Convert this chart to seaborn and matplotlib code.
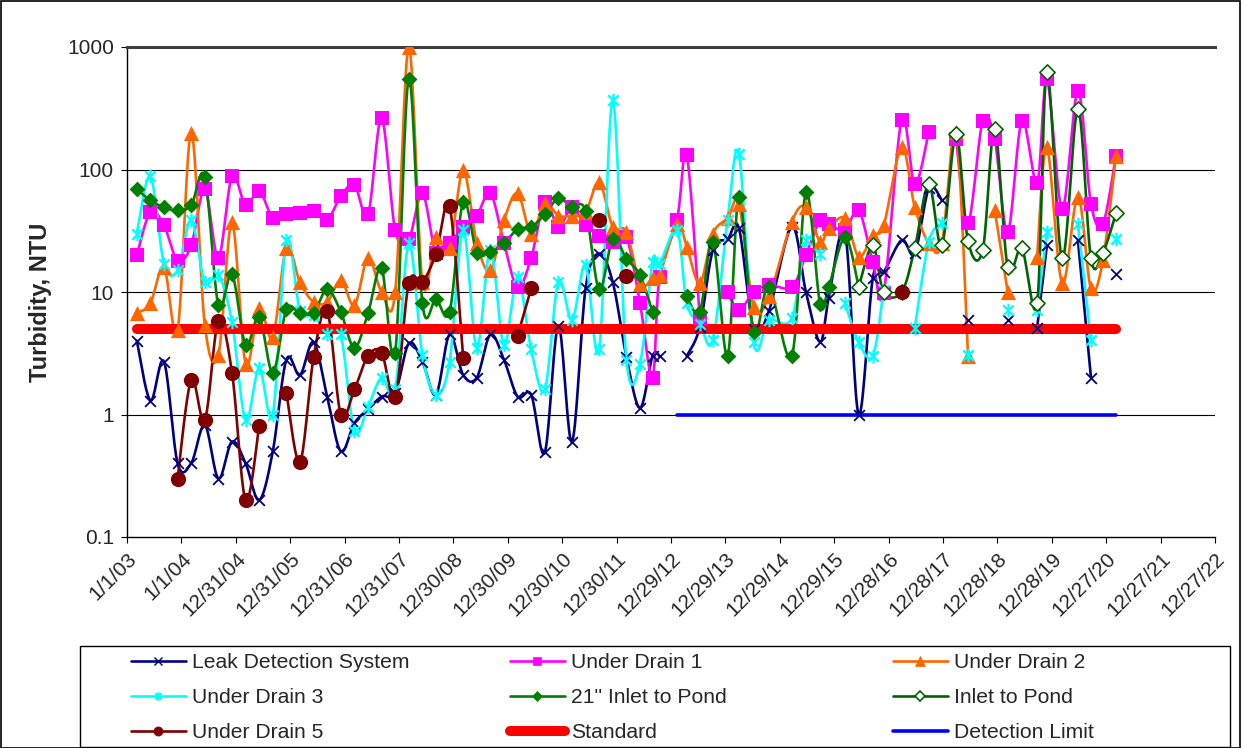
import numpy as np
import pandas as pd
import matplotlib
matplotlib.use("Agg")
import matplotlib.pyplot as plt
from matplotlib.lines import Line2D
from matplotlib.patches import Rectangle
from matplotlib.path import Path
import seaborn as sns

# ---------------------------------------------------------------- data
tick_labels = ["1/1/03", "1/1/04", "12/31/04", "12/31/05", "12/31/06", "12/31/07",
               "12/30/08", "12/30/09", "12/30/10", "12/30/11", "12/29/12", "12/29/13",
               "12/29/14", "12/29/15", "12/28/16", "12/28/17", "12/28/18", "12/28/19",
               "12/27/20", "12/27/21", "12/27/22"]

# sampling dates (decimal years)
sample_years = [
    2003.18, 2003.43, 2003.68, 2003.93, 2004.18, 2004.43, 2004.68, 2004.93,
    2005.18, 2005.43, 2005.68, 2005.93, 2006.18, 2006.43, 2006.68, 2006.93,
    2007.18, 2007.43, 2007.68, 2007.93, 2008.18, 2008.43, 2008.68, 2008.93,
    2009.18, 2009.43, 2009.68, 2009.93, 2010.18, 2010.43, 2010.68, 2010.93,
    2011.18, 2011.43, 2011.68, 2011.93, 2012.18, 2012.43,
    2012.66, 2012.79, 2013.11, 2013.29, 2013.53, 2013.77, 2014.04, 2014.25,
    2014.52, 2014.80, 2015.22, 2015.48, 2015.74, 2015.90, 2016.20, 2016.45,
    2016.71, 2016.91, 2017.24, 2017.48, 2017.74, 2017.98, 2018.24, 2018.46,
    2018.73, 2018.95, 2019.19, 2019.45, 2019.73, 2019.91, 2020.19, 2020.48,
    2020.72, 2020.94, 2021.18,
]

N = None
leak_detection = [
    4, 1.3, 2.7, 0.4, 0.4, 0.82, 0.3, 0.6, 0.4, 0.2, 0.5, 2.8, 2.1, 3.9, 1.4, 0.5,
    0.85, 1.1, 1.4, 1.5, 3.8, 2.7, 1.45, 4.5, 2.1, 2.0, 4.5, 2.8, 1.4, 1.45, 0.49, 5.3,
    0.6, 10.7, 20.6, 12, 2.97, 1.13,
    3, 3, N, 3, 5.2, 22, 27, 33, 5, 7, 34, 10, 3.9, 9, 30, 1.0,
    13, 14.6, 26.5, 20.7, 70, 56, N, 5.9, N, N, 5.9, N, 5.1, 24, N, 26.5,
    2.0, N, 14,
]
under_drain_1 = [
    20, 45, 35, 18, 24, 69, 19, 88, 51, 67, 40, 43, 44, 46, 39, 60.5,
    75, 43, 261, 32, 27, 64, 20.7, 25, 34, 42, 64, 25, 10.9, 19, 54, 34,
    49, 35, 28.6, 25.7, 28, 8.1,
    2.0, 13.3, 38.6, 131, 6.1, N, 10, 7.1, 10, 11.4, 11, 20, 38.6, 36, 32, 46.6,
    17.5, 9.8, 255, 76, 203, N, 176, 36.6, 249, 176, 31, 249, 78, 545, 48, 437,
    52.7, 36, 130,
]
under_drain_2 = [
    6.7, 8.1, 16, 4.9, 200, 5.4, 3.06, 37, 2.6, 7.4, 4.3, 23, 12, 8.3, 8.3, 12.5,
    7.8, 19, 10, 10, 1000, 12, 28, 22.7, 98.6, 25, 15, 38.6, 64, 30, 53, 42,
    42, 45, 79, 34, 31, 11.6,
    12.9, 13.7, 36, 23.4, 11.8, 30, 40, 52, 7.6, 9.2, 37.4, 49.5, 25.7, 33, 40, 19.4,
    29, 35, 152, 49.5, 25, 25, 203, 3.0, N, 46.6, 10, N, 19.4, 152, 11.8, 60,
    10.7, 18.2, 130,
]
under_drain_3 = [
    30, 88, 17, 15, 38.6, 12, 13.8, 5.7, 0.9, 2.4, 1.0, 26.5, 7, 6.5, 4.5, 4.5,
    0.73, 1.16, 2.0, 1.6, 25, 3.06, 1.45, 2.7, 32, 3.5, 22, 3.7, 13.3, 3.4, 1.6, 12.1,
    5.9, 16.6, 3.4, 367, 2.8, 2.6,
    17.7, 17, 32, 8.1, 5.5, 4.06, 38.6, 134, 3.9, 5.9, 6.1, 26.5, 20.6, N, 8.1, 3.9,
    3.0, 10.4, N, 5.06, 25.7, 36.6, N, 3.06, N, N, 7.1, N, 7.1, 31, N, 36,
    4.06, N, 27,
]
inlet_21 = [
    69, 56, 49, 46.5, 51, 87, 7.8, 14, 3.7, 6.3, 2.2, 7.2, 6.7, 6.8, 10.5, 6.9,
    3.5, 6.7, 15.6, 3.2, 552, 8.1, 8.7, 6.9, 54.5, 21, 21.4, 25, 32.5, 34, 43, 58,
    49.5, 46, 10.5, 27, 18.7, 13.7,
    6.9, N, N, 9.2, 6.9, 25.7, 3.0, 60, 4.7, 11, 3, 65, 8, 11, 28, 11,
    N, N, N, N, N, N, N, N, N, N, N, N, N, N, N, N,
    N, N, N,
]
inlet_pond = [N] * 53 + [
    11, 24, 10, 10, 22.7, 76, 24, 194, 26, 22, 216, 15.9, 22.7, 8.1, 624, 18.8,
    310, 18.8, 21, 44,
]
under_drain_5 = [
    N, N, N, 0.3, 1.92, 0.9, 5.8, 2.2, 0.2, 0.8, N, 1.5, 0.41, 2.93, 7.05, 1.0,
    1.6, 3.0, 3.2, 1.4, 11.8, 12.1, 20.6, 50, 2.9, N, N, N, 4.4, 10.7, N, N,
    N, N, 38.6, N, 13.5, N,
    N, N, N, N, N, N, N, N, N, N, N, N, N, N, N, N,
    N, N, 10, N, N, N, N, N, N, N, N, N, N, N, N, N,
    N, N, N,
]

standard_value = 5
standard_span = [2003.18, 2021.18]
detection_limit = 1
detection_span = [2013.11, 2021.18]

# ---------------------------------------------------------------- helpers
BASE = pd.Timestamp("2003-01-01")


def year_to_days(yr):
    return (np.asarray(yr, dtype=float) - 2003.0) * 365.0


def runs(values):
    """Split a series into runs of consecutive non-missing samples."""
    out, cur = [], []
    for i, v in enumerate(values):
        if v is None:
            if cur:
                out.append(cur)
            cur = []
        else:
            cur.append(i)
    if cur:
        out.append(cur)
    return out


def smooth(x, y, n=18):
    """Cardinal (Catmull-Rom) Bezier smoothing in (x, log y) space."""
    P = np.column_stack([x, np.log10(y)])
    if len(P) < 3:
        return x, y
    E = np.vstack([P[0], P, P[-1]])
    t = np.linspace(0, 1, n, endpoint=False)[:, None]
    pts = []
    for k in range(len(P) - 1):
        p0, p1, p2, p3 = E[k], E[k + 1], E[k + 2], E[k + 3]
        c1 = p1 + (p2 - p0) / 6.0
        c2 = p2 - (p3 - p1) / 6.0
        pts.append((1 - t) ** 3 * p1 + 3 * (1 - t) ** 2 * t * c1
                   + 3 * (1 - t) * t ** 2 * c2 + t ** 3 * p2)
    pts.append(P[-1][None, :])
    pts = np.vstack(pts)
    return pts[:, 0], 10 ** pts[:, 1]


star_marker = Path([(-1, -1), (1, 1), (-1, 1), (1, -1), (0, -1.3), (0, 1.3)],
                   [Path.MOVETO, Path.LINETO, Path.MOVETO, Path.LINETO,
                    Path.MOVETO, Path.LINETO])

series = [
    dict(label="Leak Detection System", vals=leak_detection, color="#000080",
         marker="x", s=60, face="#000080", lw_m=1.3),
    dict(label="Under Drain 1", vals=under_drain_1, color="#FF00FF",
         marker="s", s=110, face="#FF00FF", lw_m=0),
    dict(label="Under Drain 2", vals=under_drain_2, color="#FF6600",
         marker="^", s=120, face="#FF6600", lw_m=0),
    dict(label="Under Drain 3", vals=under_drain_3, color="#00FFFF",
         marker=star_marker, s=95, face="#00FFFF", lw_m=1.6),
    dict(label='21" Inlet to Pond', vals=inlet_21, color="#008000",
         marker="D", s=65, face="#008000", lw_m=0),
    dict(label="Inlet to Pond", vals=inlet_pond, color="#006400",
         marker="D", s=60, face="white", lw_m=1.2),
    dict(label="Under Drain 5", vals=under_drain_5, color="#800000",
         marker="o", s=120, face="#800000", lw_m=0),
]

# ---------------------------------------------------------------- figure
sns.set_theme(style="white")
plt.rcParams["font.family"] = ["Liberation Sans", "DejaVu Sans"]

fig = plt.figure(figsize=(12.46, 7.48), dpi=100)
ax = fig.add_axes([127 / 1246, 1 - 537 / 748, (1215 - 127) / 1246, (537 - 47) / 748])
ax.set_yscale("log")

days = year_to_days(sample_years)

for k, sp in enumerate(series):
    vals = sp["vals"]
    for run in runs(vals):
        xs = days[run]
        ys = np.array([vals[i] for i in run], dtype=float)
        if len(run) >= 2:
            sx, sy = smooth(xs, ys)
            sns.lineplot(x=sx, y=sy, ax=ax, color=sp["color"], linewidth=1.9,
                         sort=False, estimator=None, errorbar=None, legend=False,
                         zorder=2 + 0.01 * k)
    idx = [i for i, v in enumerate(vals) if v is not None]
    mx = days[idx]
    my = np.array([vals[i] for i in idx], dtype=float)
    kw = dict(x=mx, y=my, ax=ax, marker=sp["marker"], s=sp["s"], legend=False,
              zorder=4 + 0.01 * k)
    if sp["marker"] == "x":
        sns.scatterplot(color=sp["color"], linewidth=sp["lw_m"], **kw)
    elif sp["face"] == "white" or sp["lw_m"] > 0:
        sns.scatterplot(color=sp["face"], edgecolor=sp["color"],
                        linewidth=sp["lw_m"], **kw)
    else:
        sns.scatterplot(color=sp["color"], edgecolor=sp["color"], linewidth=0, **kw)

# reference lines
sns.lineplot(x=year_to_days(standard_span), y=[standard_value] * 2, ax=ax,
             color="#FF0000", linewidth=7.2, legend=False, zorder=3,
             solid_capstyle="round")
sns.lineplot(x=year_to_days(detection_span), y=[detection_limit] * 2, ax=ax,
             color="#0000FF", linewidth=2.6, legend=False, zorder=3)

# axes
tick_dates = pd.to_datetime(tick_labels, format="%m/%d/%y")
tick_days = np.array((tick_dates - BASE).days, dtype=float)
ax.set_xlim(tick_days[0], tick_days[-1])
ax.set_ylim(0.1, 1000)
ax.set_xticks(tick_days)
ax.set_xticklabels(tick_labels, rotation=45, ha="right", va="top",
                   rotation_mode="anchor", fontsize=15)
ax.set_yticks([0.1, 1, 10, 100, 1000])
ax.set_yticklabels(["0.1", "1", "10", "100", "1000"], fontsize=15)
ax.minorticks_off()
ax.tick_params(axis="both", which="major", direction="out", length=4.5,
               width=0.8, color="black", pad=4, bottom=True, left=True)
ax.tick_params(axis="y", pad=5)
ax.set_xlabel("")
ax.set_ylabel("")
for yv in [1, 10, 100]:
    ax.axhline(yv, color="black", linewidth=0.8, zorder=1)
ax.spines["right"].set_visible(False)
ax.spines["top"].set_color("#404040")
ax.spines["top"].set_linewidth(2.2)
for s in ["left", "bottom"]:
    ax.spines[s].set_color("black")
    ax.spines[s].set_linewidth(1.0)
ax.set_facecolor("white")

fig.text(41 / 1246, 1 - 302 / 748, "Turbidity, NTU", rotation=90, ha="center",
         va="center", fontsize=17, fontweight="bold")

# legend (three columns inside one framed box)
def handle(sp):
    if sp["marker"] == "x":
        return Line2D([], [], color=sp["color"], lw=1.9, marker="x",
                      markersize=6, markeredgewidth=1.0)
    return Line2D([], [], color=sp["color"], lw=1.9, marker=sp["marker"],
                  markersize=np.sqrt(sp["s"]) * 0.6, markerfacecolor=sp["face"],
                  markeredgecolor=sp["color"], markeredgewidth=max(sp["lw_m"], 0.5))

h = {sp["label"]: handle(sp) for sp in series}
h["Standard"] = Line2D([], [], color="#FF0000", lw=7.2, solid_capstyle="round")
h["Detection Limit"] = Line2D([], [], color="#0000FF", lw=2.6)

columns = [
    (131, ["Leak Detection System", "Under Drain 3", "Under Drain 5"]),
    (510, ["Under Drain 1", '21" Inlet to Pond', "Standard"]),
    (893, ["Under Drain 2", "Inlet to Pond", "Detection Limit"]),
]
for x0, labels in columns:
    fig.legend([h[l] for l in labels], labels, loc="upper left",
               bbox_to_anchor=(x0 / 1246, 1 - 653 / 748),
               bbox_transform=fig.transFigure, frameon=False, borderpad=0,
               borderaxespad=0, handlelength=2.6, handletextpad=0.3,
               labelspacing=0.76, fontsize=15.2, numpoints=1)

fig.patches.append(Rectangle((80 / 1246, 1 / 748), (1230 - 80) / 1246, (746 - 645) / 748,
                             transform=fig.transFigure, fill=False,
                             edgecolor="black", linewidth=1.0))
fig.patches.append(Rectangle((0.5 / 1246, 0.5 / 748), (1240 - 0.5) / 1246, 747 / 748,
                             transform=fig.transFigure, fill=False,
                             edgecolor="black", linewidth=1.2))

fig.savefig("out.png", dpi=100, facecolor="white")
